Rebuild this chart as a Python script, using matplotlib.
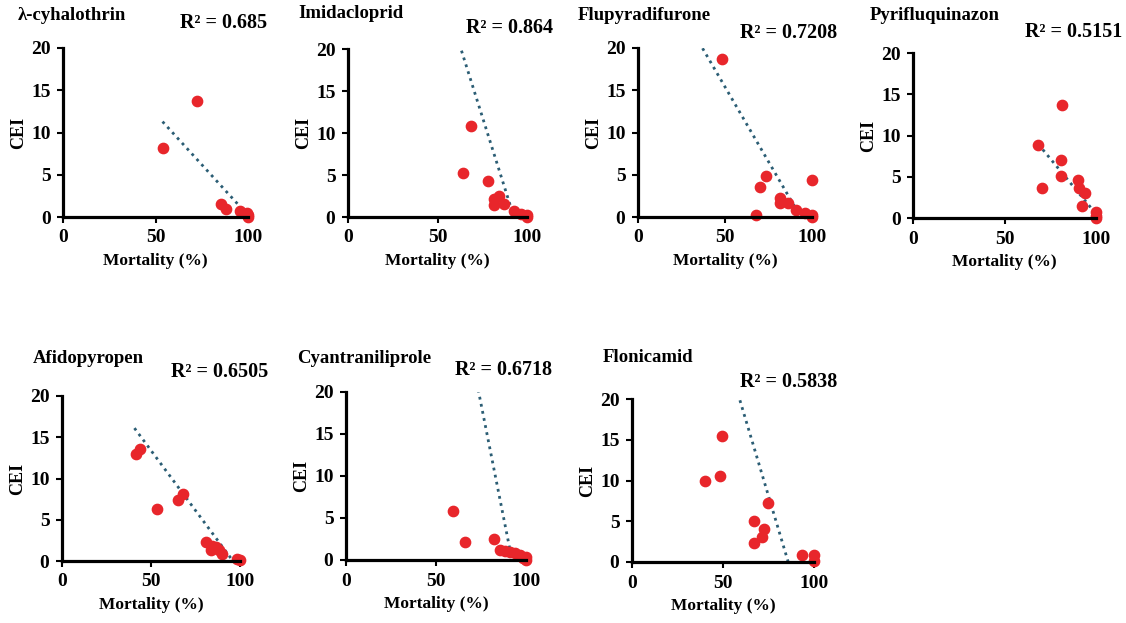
import numpy as np
import matplotlib.pyplot as plt

plt.rcParams['font.family'] = ['Liberation Serif', 'DejaVu Serif']
plt.rcParams['font.weight'] = 'bold'

# data: mortality (%) vs CEI for each insecticide
names = ["λ-cyhalothrin", "Imidacloprid", "Flupyradifurone", "Pyrifluquinazon",
         "Afidopyropen", "Cyantraniliprole", "Flonicamid"]
r2_labels = ["R² = 0.685", "R² = 0.864", "R² = 0.7208", "R² = 0.5151",
             "R² = 0.6505", "R² = 0.6718", "R² = 0.5838"]

mort_lambda = [53.8, 72.3, 85.5, 87.9, 95.8, 99.6, 100, 100, 99.0]
cei_lambda = [8.2, 13.7, 1.5, 1.0, 0.7, 0.5, 0.2, 0.0, 0.35]

mort_imida = [64.0, 68.7, 78.4, 81.7, 81.7, 84.5, 86.9, 92.9, 96.5, 100, 100]
cei_imida = [5.2, 10.8, 4.3, 2.2, 1.4, 2.5, 1.5, 0.7, 0.4, 0.2, 0.0]

mort_flupy = [48.5, 67.9, 70.2, 73.7, 81.7, 81.7, 86.3, 90.6, 96.2, 99.8, 100, 100]
cei_flupy = [18.7, 0.2, 3.5, 4.9, 2.2, 1.7, 1.6, 0.8, 0.5, 4.4, 0.2, 0.0]

mort_pyri = [68.4, 70.3, 81.6, 81.0, 81.0, 90.3, 90.9, 94.0, 92.5, 99.8, 99.8, 99.8]
cei_pyri = [8.9, 3.6, 13.7, 7.0, 5.05, 4.6, 3.6, 3.0, 1.4, 0.7, 0.3, 0.0]

mort_afido = [41.5, 43.9, 53.3, 65.0, 67.9, 81.1, 83.7, 84.3, 86.5, 88.0, 89.7, 98.5, 100]
cei_afido = [13.0, 13.6, 6.3, 7.4, 8.1, 2.3, 1.3, 1.8, 1.7, 1.3, 0.9, 0.2, 0.1]

mort_cyan = [59.4, 65.9, 82.0, 85.7, 88.5, 91.3, 94.1, 96.5, 98.1, 100, 100]
cei_cyan = [5.8, 2.1, 2.5, 1.2, 1.1, 1.0, 0.8, 0.6, 0.2, 0.4, 0.0]

mort_flon = [40.0, 48.3, 49.7, 67.0, 67.2, 71.2, 72.7, 74.9, 93.4, 100, 100]
cei_flon = [10.0, 10.6, 15.4, 5.0, 2.3, 3.1, 4.1, 7.3, 0.8, 0.9, 0.1]

mortality = [mort_lambda, mort_imida, mort_flupy, mort_pyri, mort_afido, mort_cyan, mort_flon]
cei = [cei_lambda, cei_imida, cei_flupy, cei_pyri, cei_afido, cei_cyan, cei_flon]

# linear trendlines (slope, intercept, x start, x end)
trend_slope = [-0.24, -0.676, -0.354, -0.268, -0.291, -1.08, -0.748]
trend_intercept = [24.2, 62.66, 33.1, 27.3, 27.95, 99.6, 64.2]
trend_x0 = [53.8, 63.4, 37.1, 68.4, 40.7, 59.4, 59.3]
trend_x1 = [99.0, 100, 100, 99.8, 100, 100, 100]

W, H = 1126, 623
fig = plt.figure(figsize=(W / 100, H / 100), dpi=100)

# axes boxes in pixels: left, right(x=100), top(y=20), bottom(y=0)
boxes = [(63, 248, 48, 217), (348, 527, 49, 217), (638, 812, 48, 217), (913, 1096, 53, 218),
         (62, 240, 396, 561), (346, 526, 392, 560), (632, 814, 399, 562)]
title_pos = [(18, 16), (298, 14), (578, 16), (870, 15), (33, 358), (297, 358), (603, 357)]
r2_pos = [(267, 23), (553, 28), (837, 33), (1122, 32), (268, 372), (552, 370), (837, 382)]

for i in range(7):
    l, r, t, b = boxes[i]
    ax = fig.add_axes([l / W, 1 - b / H, (r - l) / W, (b - t) / H])
    ax.scatter(mortality[i], cei[i], s=55, color='#e8262b', zorder=3, clip_on=False)

    xs = np.array([trend_x0[i], trend_x1[i]])
    ax.plot(xs, trend_slope[i] * xs + trend_intercept[i], linestyle=(0, (1, 1.6)),
            color='#2b5d74', lw=2.0, zorder=2)

    ax.set_xlim(0, 100)
    ax.set_ylim(0, 20)
    ax.set_xticks([0, 50, 100])
    ax.set_yticks([0, 5, 10, 15, 20])
    for s in ['top', 'right']:
        ax.spines[s].set_visible(False)
    for s in ['left', 'bottom']:
        ax.spines[s].set_linewidth(2.3)
        ax.spines[s].set_zorder(4)
    ax.tick_params(axis='both', direction='out', length=4, width=1.5, labelsize=14, pad=5)
    ax.set_xlabel("Mortality (%)", fontsize=12.5, fontweight='bold', labelpad=5)
    ax.set_ylabel("CEI", fontsize=13, fontweight='bold', labelpad=3)

    fig.text(title_pos[i][0] / W, 1 - title_pos[i][1] / H, names[i], fontsize=13.5,
             fontweight='bold', ha='left', va='center')
    fig.text(r2_pos[i][0] / W, 1 - r2_pos[i][1] / H, r2_labels[i], fontsize=14.5,
             fontweight='bold', ha='right', va='center')

fig.savefig("out.png", dpi=100)
